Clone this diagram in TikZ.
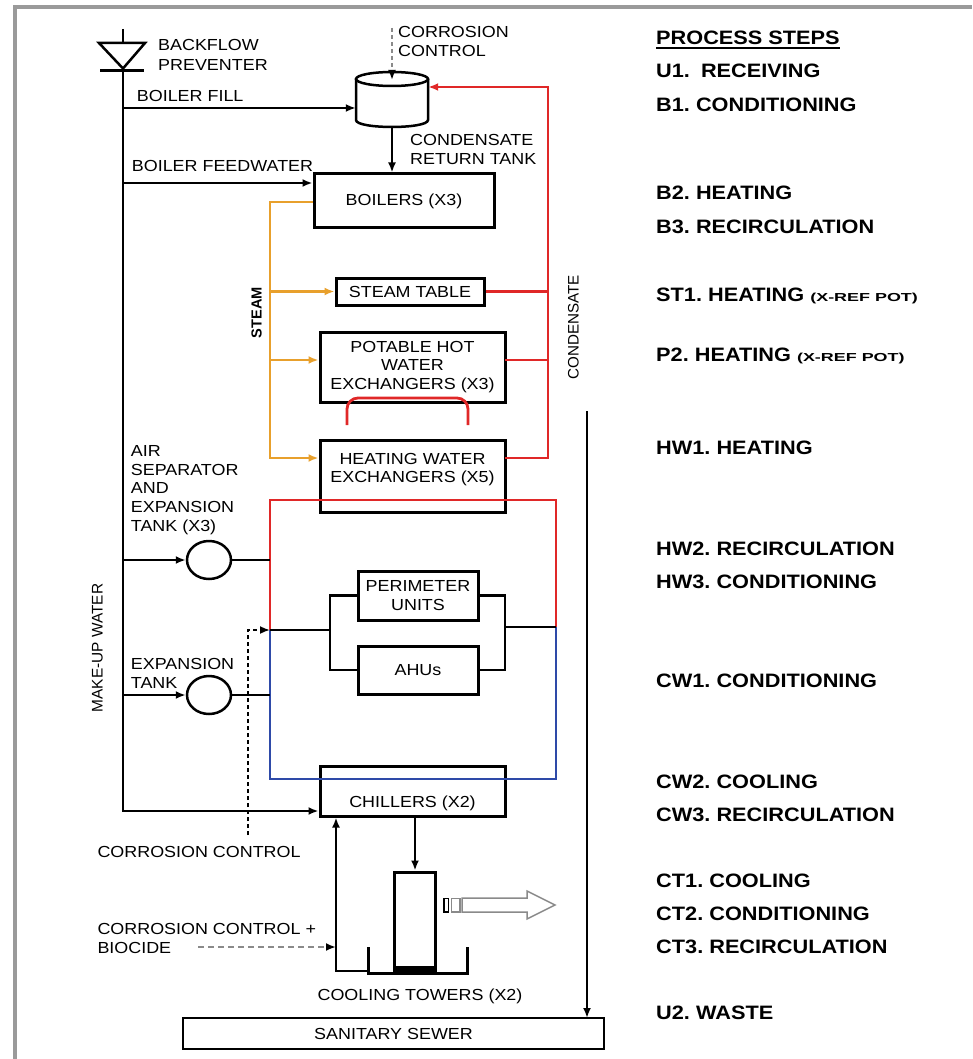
\documentclass[tikz,border=0pt]{standalone}
\usepackage{fontspec}
\setmainfont{Liberation Sans}[FakeStretch=1.12]
\newfontfamily\rotfont{Liberation Sans}
\usetikzlibrary{arrows.meta,shapes.geometric}
\definecolor{steamc}{HTML}{E8A02C}
\definecolor{condc}{HTML}{E02828}
\definecolor{coldc}{HTML}{2E4AA8}
\definecolor{framec}{HTML}{9A9A9A}
\definecolor{dashc}{HTML}{8A8A8A}
\newcommand\lblfont{\fontsize{16}{18.8}\selectfont}
\newcommand\xref{\scalebox{1.38}[1]{\fontsize{11.6}{14}\selectfont (X-REF POT)}}
\frenchspacing
\begin{document}
\begin{tikzpicture}[x=1pt,y=-1pt,
  >={Latex[length=10pt,width=8pt]},
  box/.style={draw, line width=3pt, inner sep=0pt, align=center, font=\lblfont},
  pipe/.style={line width=2.5pt},
  steam/.style={draw=steamc, line width=2.8pt},
  cond/.style={draw=condc, line width=2.8pt},
  cold/.style={draw=coldc, line width=2.8pt},
  lbl/.style={inner sep=0pt, align=left, font=\lblfont},
  stp/.style={inner sep=0pt, anchor=base west, font=\bfseries\fontsize{19.4}{22}\selectfont},
  tankc/.style={ellipse, draw, line width=2.5pt, minimum width=44pt, minimum height=38pt, inner sep=0pt}
]
\useasboundingbox (0,0) rectangle (972,1059);
% frame
\draw[framec, line width=4pt] (14.7,1059) -- (14.7,7) -- (972,7);

% ---------- nodes ----------
\node[inner sep=0, minimum width=72pt, minimum height=48pt] (tank) at (392,103) {};
\node[box, minimum width=180pt, minimum height=54pt] (boil) at (404,201) {BOILERS (X3)};
\node[box, minimum width=148pt, minimum height=27pt] (stable) at (410,291.5) {STEAM TABLE};
\node[box, minimum width=185pt, minimum height=70pt] (potable) at (412.5,367) {POTABLE HOT\\WATER\\EXCHANGERS (X3)};
\node[box, minimum width=185pt, minimum height=72pt] (hwx) at (412.5,476) {};
\node[lbl, align=center] (hwxt) at (412.5,469.5) {HEATING WATER\\EXCHANGERS (X5)};
\node[box, minimum width=120pt, minimum height=49pt] (perim) at (418,595.5) {PERIMETER\\UNITS};
\node[box, minimum width=120pt, minimum height=48pt] (ahu) at (418,670) {AHUs};
\node[box, minimum width=185pt, minimum height=50pt] (chill) at (412.5,791) {};
\node[lbl] (chillt) at (412.5,803) {CHILLERS (X2)};
\node[draw, line width=3pt, minimum width=40.5pt, minimum height=98pt, inner sep=0] (tower) at (415,921) {};
\node[draw, line width=1.8pt, minimum width=421pt, minimum height=31pt, inner sep=0, font=\lblfont] (sewer) at (393.5,1033.5) {SANITARY SEWER};
\node[tankc] (airsep) at (209,560) {};
\node[tankc] (exptank) at (209,695) {};

% ---------- labels ----------
\node[lbl, anchor=north west] (lbf) at (158,39.3) {BACKFLOW\\[0.7pt]PREVENTER};
\node[lbl, anchor=north west] (lcc1) at (398,26) {CORROSION\\CONTROL};
\node[lbl, anchor=base west] (lfill) at (136.7,101.7) {BOILER FILL};
\node[lbl, anchor=north west] (lcrt) at (410,134.5) {CONDENSATE\\RETURN TANK};
\node[lbl, anchor=base west] (lfeed) at (131.7,171.7) {BOILER FEEDWATER};
\node[lbl, anchor=north west] (lair) at (130.7,445) {AIR\\SEPARATOR\\AND\\EXPANSION\\TANK (X3)};
\node[lbl, anchor=north west] (lexp) at (130.7,658.5) {EXPANSION\\TANK};
\node[lbl, anchor=base west] (lcc2) at (97.3,857.3) {CORROSION CONTROL};
\node[lbl, anchor=north west] (lcc3) at (97.3,923.5) {CORROSION CONTROL +\\BIOCIDE};
\node[lbl, anchor=base] (lct) at (420,1000.7) {COOLING TOWERS (X2)};
\node[rotate=90, inner sep=0, font=\rotfont\fontsize{15.4}{18}\selectfont] (lmk) at (97.5,648) {MAKE-UP WATER};
\node[rotate=90, inner sep=0, font=\rotfont\fontsize{15.2}{18}\selectfont] (lcond) at (573.4,327.5) {CONDENSATE};
\node[rotate=90, inner sep=0, font=\rotfont\bfseries\fontsize{14.6}{18}\selectfont] (lsteam) at (256.5,312.5) {STEAM};

% ---------- process steps ----------
\node[stp] (ps) at (656,45) {PROCESS STEPS};
\draw[line width=1.6pt] (656,47.8) -- (840,47.8);
\node[stp] (u1) at (656,77.3) {U1.\hspace{11pt}RECEIVING};
\node[stp] (b1) at (656,111.7) {B1. CONDITIONING};
\node[stp] (b2) at (656,200) {B2. HEATING};
\node[stp] (b3) at (656,233.3) {B3. RECIRCULATION};
\node[stp] (st1) at (656,301.7) {ST1. HEATING \xref};
\node[stp] (p2) at (656,361.7) {P2. HEATING \xref};
\node[stp] (hw1) at (656,454.3) {HW1. HEATING};
\node[stp] (hw2) at (656,555.2) {HW2. RECIRCULATION};
\node[stp] (hw3) at (656,588.3) {HW3. CONDITIONING};
\node[stp] (cw1) at (656,687.5) {CW1. CONDITIONING};
\node[stp] (cw2) at (656,788.3) {CW2. COOLING};
\node[stp] (cw3) at (656,821.5) {CW3. RECIRCULATION};
\node[stp] (ct1) at (656,887.5) {CT1. COOLING};
\node[stp] (ct2) at (656,920.6) {CT2. CONDITIONING};
\node[stp] (ct3) at (656,953.7) {CT3. RECIRCULATION};
\node[stp] (u2) at (656,1019.8) {U2. WASTE};

% ---------- condensate return tank ----------
\draw[line width=2.5pt] (356,79) -- (356,120) .. controls (356,129.3) and (428,129.3) .. (428,120) -- (428,79);
\draw[line width=2.5pt] (392,79) ellipse [x radius=36, y radius=7];

% ---------- backflow preventer and make-up water ----------
\coordinate (bftop) at (123,29);
\coordinate (bf1) at (123,43);
\coordinate (bf2) at (123,71);
\coordinate (mkbot) at (123,811);
\draw[pipe] (bftop) -- (bf1);
\draw[pipe, line join=miter] (99,43) -- (145,43) -- (123,68.5) -- cycle;
\draw[line width=3pt] (100,71) -- (144,71);
\draw[pipe,->] (bf2) -- (mkbot) -- (mkbot -| chill.west);
\coordinate (fill) at (123,108);
\draw[pipe,->] (fill) -- (fill -| tank.west);
\coordinate (feed) at (123,183);
\draw[pipe,->] (feed) -- (feed -| boil.west);
\draw[pipe,->] (tank.south) -- (tank.south |- boil.north);
\coordinate (cctop) at (392,28);
\draw[dashc, dash pattern=on 4pt off 3pt, line width=2pt, -{Latex[length=10pt,width=8pt,color=black]}] (cctop) -- (392,80);

% ---------- steam ----------
\coordinate (s0) at (270,202);
\coordinate (s1) at (270,291.5);
\coordinate (s2) at (270,360);
\coordinate (s3) at (270,458);
\draw[steam,->] (boil.west |- s0) -- (s0) -- (s3) -- (s3 -| hwx.west);
\draw[steam,->] (s1) -- (stable.west);
\draw[steam,->] (s2) -- (s2 -| potable.west);

% ---------- condensate ----------
\coordinate (c1) at (548,87);
\coordinate (hwxr) at (505,458);
\coordinate (potr) at (505,360);
\draw[cond,->] (hwxr) -- (hwxr -| c1) -- (c1) -- (c1 -| tank.east);
\draw[cond] (stable.east) -- (stable.east -| c1);
\draw[cond] (potr) -- (potr -| c1);
\draw[cond, rounded corners=11pt] (347,425) -- (347,398) -- (468,398) -- (468,425);

% ---------- heating / chilled water loop ----------
\coordinate (hwTL) at (270,500);
\coordinate (hwTR) at (556,500);
\coordinate (hwML) at (270,630);
\coordinate (hwMR) at (556,627);
\coordinate (cwBL) at (270,779);
\coordinate (cwBR) at (556,779);
\draw[cond] (hwML) -- (hwTL) -- (hwTR) -- (hwMR);
\draw[cold] (hwMR) -- (cwBR) -- (cwBL) -- (hwML);
\draw[pipe,->] (123,560) -- (airsep.west);
\draw[pipe] (airsep.east) -- (airsep.east -| hwTL);
\draw[pipe,->] (123,695) -- (exptank.west);
\draw[pipe] (exptank.east) -- (exptank.east -| hwTL);
\draw[pipe] (hwML) -- (330,630);
\draw[pipe] (perim.west) -- (perim.west -| 330,0) -- (ahu.west -| 330,0) -- (ahu.west);
\draw[pipe] (perim.east) -- (perim.east -| 505,0) -- (ahu.east -| 505,0) -- (ahu.east);
\draw[pipe] (505,627) -- (hwMR);
\draw[line width=1.8pt, dash pattern=on 4pt off 3pt, ->] (248,835) -- (248,630) -- (hwML);

% ---------- cooling tower ----------
\draw[pipe,->] (tower.north |- chill.south) -- (tower.north);
\fill (395,966) rectangle (436,973);
\draw[line width=3pt] (368,947) -- (368,973) -- (467,973) -- (467,947);
\coordinate (r0) at (368,971);
\coordinate (r1) at (336,971);
\draw[pipe,->] (r0) -- (r1) -- (r1 |- chill.south);
\draw[dashc, dash pattern=on 6pt off 4pt, line width=2pt, -{Latex[length=10pt,width=8pt,color=black]}] (198,947) -- (r1 |- 0,947);
\draw[line width=1.2pt] (444,898.5) rectangle (448.5,912);
\draw[dashc, line width=1.2pt] (451.5,898.5) rectangle (460,912);
\draw[dashc, line width=1.5pt, fill=white] (462,898) -- (527,898) -- (527,891) -- (555,905) -- (527,919) -- (527,912) -- (462,912) -- cycle;

% ---------- waste ----------
\draw[pipe,->] (587,411) -- (587,1018);
\end{tikzpicture}
\end{document}
